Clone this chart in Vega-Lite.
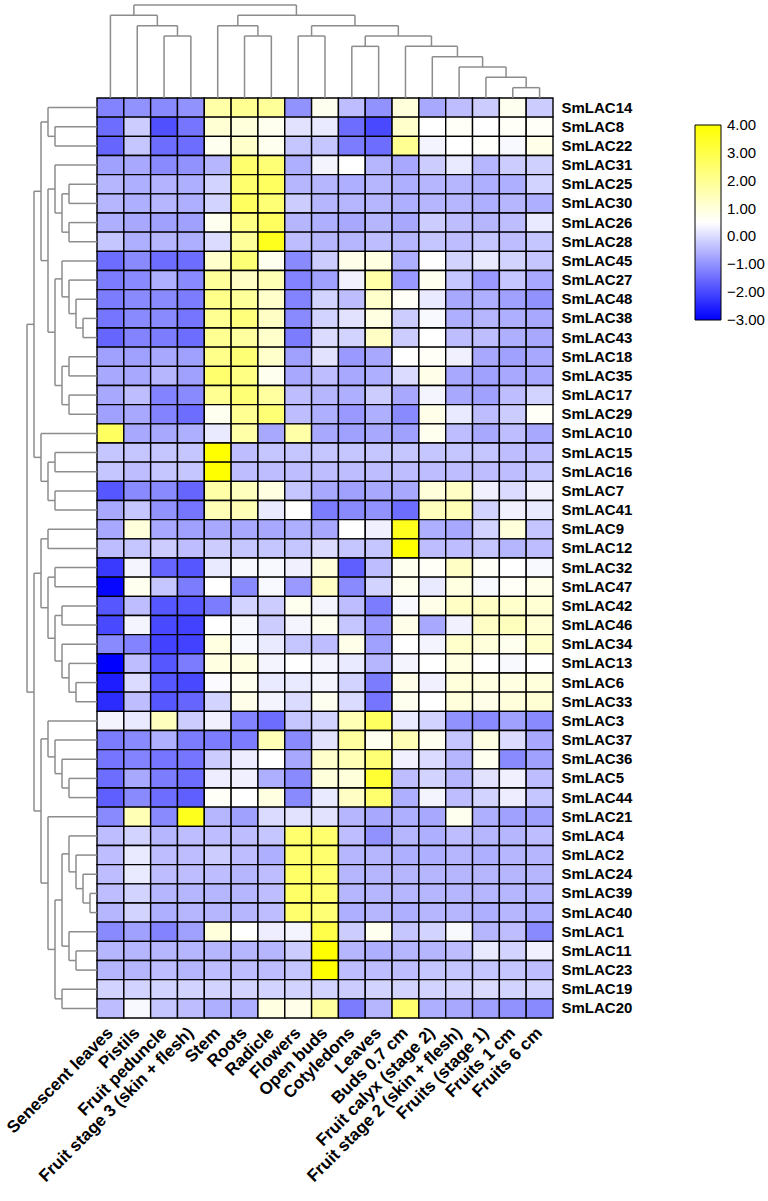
{
"$schema": "https://vega.github.io/schema/vega-lite/v6.json",
"width": 456, "height": 920,
"autosize": {"type": "none"},
"padding": {"left": 97, "top": 98, "right": 215, "bottom": 183},
"background": "white",
"config": {"view": {"stroke": null}, "font": "Liberation Sans"},
"datasets": {
"tissues": [
{"t":0,"tissue":"Senescent leaves"},{"t":1,"tissue":"Pistils"},{"t":2,"tissue":"Fruit peduncle"},{"t":3,"tissue":"Fruit stage 3 (skin + flesh)"},{"t":4,"tissue":"Stem"},{"t":5,"tissue":"Roots"},{"t":6,"tissue":"Radicle"},{"t":7,"tissue":"Flowers"},{"t":8,"tissue":"Open buds"},{"t":9,"tissue":"Cotyledons"},{"t":10,"tissue":"Leaves"},{"t":11,"tissue":"Buds 0.7 cm"},{"t":12,"tissue":"Fruit calyx (stage 2)"},{"t":13,"tissue":"Fruit stage 2 (skin + flesh)"},{"t":14,"tissue":"Fruits (stage 1)"},{"t":15,"tissue":"Fruits 1 cm"},{"t":16,"tissue":"Fruits 6 cm"}
],
"cells": [
{"g":"SmLAC14","t":0,"v":-1.2},{"g":"SmLAC14","t":1,"v":-1.0},{"g":"SmLAC14","t":2,"v":-1.1},{"g":"SmLAC14","t":3,"v":-1.0},{"g":"SmLAC14","t":4,"v":1.7},{"g":"SmLAC14","t":5,"v":2.0},{"g":"SmLAC14","t":6,"v":1.9},{"g":"SmLAC14","t":7,"v":-1.0},{"g":"SmLAC14","t":8,"v":0.7},{"g":"SmLAC14","t":9,"v":-0.4},{"g":"SmLAC14","t":10,"v":-1.0},{"g":"SmLAC14","t":11,"v":1.0},{"g":"SmLAC14","t":12,"v":-0.7},{"g":"SmLAC14","t":13,"v":-0.4},{"g":"SmLAC14","t":14,"v":-0.2},{"g":"SmLAC14","t":15,"v":0.7},{"g":"SmLAC14","t":16,"v":-0.2},
{"g":"SmLAC8","t":0,"v":-1.5},{"g":"SmLAC8","t":1,"v":-0.2},{"g":"SmLAC8","t":2,"v":-1.9},{"g":"SmLAC8","t":3,"v":-1.4},{"g":"SmLAC8","t":4,"v":1.1},{"g":"SmLAC8","t":5,"v":1.0},{"g":"SmLAC8","t":6,"v":0.7},{"g":"SmLAC8","t":7,"v":0.1},{"g":"SmLAC8","t":8,"v":0.2},{"g":"SmLAC8","t":9,"v":-1.5},{"g":"SmLAC8","t":10,"v":-2.0},{"g":"SmLAC8","t":11,"v":1.2},{"g":"SmLAC8","t":12,"v":0.5},{"g":"SmLAC8","t":13,"v":0.6},{"g":"SmLAC8","t":14,"v":0.5},{"g":"SmLAC8","t":15,"v":0.6},{"g":"SmLAC8","t":16,"v":0.6},
{"g":"SmLAC22","t":0,"v":-1.6},{"g":"SmLAC22","t":1,"v":-0.3},{"g":"SmLAC22","t":2,"v":-1.5},{"g":"SmLAC22","t":3,"v":-1.5},{"g":"SmLAC22","t":4,"v":0.7},{"g":"SmLAC22","t":5,"v":1.2},{"g":"SmLAC22","t":6,"v":0.7},{"g":"SmLAC22","t":7,"v":-0.3},{"g":"SmLAC22","t":8,"v":-0.3},{"g":"SmLAC22","t":9,"v":-1.3},{"g":"SmLAC22","t":10,"v":-1.5},{"g":"SmLAC22","t":11,"v":2.0},{"g":"SmLAC22","t":12,"v":0.35},{"g":"SmLAC22","t":13,"v":0.5},{"g":"SmLAC22","t":14,"v":0.55},{"g":"SmLAC22","t":15,"v":0.4},{"g":"SmLAC22","t":16,"v":0.8},
{"g":"SmLAC31","t":0,"v":-0.8},{"g":"SmLAC31","t":1,"v":-0.7},{"g":"SmLAC31","t":2,"v":-1.1},{"g":"SmLAC31","t":3,"v":-1.0},{"g":"SmLAC31","t":4,"v":-0.5},{"g":"SmLAC31","t":5,"v":2.5},{"g":"SmLAC31","t":6,"v":2.4},{"g":"SmLAC31","t":7,"v":-0.6},{"g":"SmLAC31","t":8,"v":0.35},{"g":"SmLAC31","t":9,"v":0.5},{"g":"SmLAC31","t":10,"v":-0.5},{"g":"SmLAC31","t":11,"v":-0.7},{"g":"SmLAC31","t":12,"v":-0.2},{"g":"SmLAC31","t":13,"v":0.2},{"g":"SmLAC31","t":14,"v":-0.5},{"g":"SmLAC31","t":15,"v":-0.2},{"g":"SmLAC31","t":16,"v":-0.15},
{"g":"SmLAC25","t":0,"v":-0.5},{"g":"SmLAC25","t":1,"v":-0.6},{"g":"SmLAC25","t":2,"v":-0.55},{"g":"SmLAC25","t":3,"v":-0.6},{"g":"SmLAC25","t":4,"v":-0.1},{"g":"SmLAC25","t":5,"v":2.5},{"g":"SmLAC25","t":6,"v":2.7},{"g":"SmLAC25","t":7,"v":-0.5},{"g":"SmLAC25","t":8,"v":-0.5},{"g":"SmLAC25","t":9,"v":-0.6},{"g":"SmLAC25","t":10,"v":-0.5},{"g":"SmLAC25","t":11,"v":-0.6},{"g":"SmLAC25","t":12,"v":-0.5},{"g":"SmLAC25","t":13,"v":-0.5},{"g":"SmLAC25","t":14,"v":-0.6},{"g":"SmLAC25","t":15,"v":-0.6},{"g":"SmLAC25","t":16,"v":-0.1},
{"g":"SmLAC30","t":0,"v":-0.5},{"g":"SmLAC30","t":1,"v":-0.6},{"g":"SmLAC30","t":2,"v":-0.5},{"g":"SmLAC30","t":3,"v":-0.6},{"g":"SmLAC30","t":4,"v":-0.1},{"g":"SmLAC30","t":5,"v":2.7},{"g":"SmLAC30","t":6,"v":2.4},{"g":"SmLAC30","t":7,"v":-0.2},{"g":"SmLAC30","t":8,"v":-0.5},{"g":"SmLAC30","t":9,"v":-0.5},{"g":"SmLAC30","t":10,"v":-0.5},{"g":"SmLAC30","t":11,"v":-0.6},{"g":"SmLAC30","t":12,"v":-0.5},{"g":"SmLAC30","t":13,"v":-0.5},{"g":"SmLAC30","t":14,"v":-0.6},{"g":"SmLAC30","t":15,"v":-0.5},{"g":"SmLAC30","t":16,"v":-0.6},
{"g":"SmLAC26","t":0,"v":-0.6},{"g":"SmLAC26","t":1,"v":-0.7},{"g":"SmLAC26","t":2,"v":-0.8},{"g":"SmLAC26","t":3,"v":-0.8},{"g":"SmLAC26","t":4,"v":0.7},{"g":"SmLAC26","t":5,"v":2.2},{"g":"SmLAC26","t":6,"v":2.7},{"g":"SmLAC26","t":7,"v":-0.5},{"g":"SmLAC26","t":8,"v":-0.6},{"g":"SmLAC26","t":9,"v":-0.7},{"g":"SmLAC26","t":10,"v":-0.5},{"g":"SmLAC26","t":11,"v":-0.7},{"g":"SmLAC26","t":12,"v":-0.2},{"g":"SmLAC26","t":13,"v":-0.4},{"g":"SmLAC26","t":14,"v":-0.5},{"g":"SmLAC26","t":15,"v":-0.4},{"g":"SmLAC26","t":16,"v":0.2},
{"g":"SmLAC28","t":0,"v":-0.3},{"g":"SmLAC28","t":1,"v":-0.6},{"g":"SmLAC28","t":2,"v":-0.5},{"g":"SmLAC28","t":3,"v":-0.6},{"g":"SmLAC28","t":4,"v":0.0},{"g":"SmLAC28","t":5,"v":1.9},{"g":"SmLAC28","t":6,"v":3.6},{"g":"SmLAC28","t":7,"v":-0.4},{"g":"SmLAC28","t":8,"v":-0.5},{"g":"SmLAC28","t":9,"v":-0.5},{"g":"SmLAC28","t":10,"v":-0.4},{"g":"SmLAC28","t":11,"v":-0.5},{"g":"SmLAC28","t":12,"v":-0.3},{"g":"SmLAC28","t":13,"v":-0.4},{"g":"SmLAC28","t":14,"v":-0.3},{"g":"SmLAC28","t":15,"v":-0.4},{"g":"SmLAC28","t":16,"v":-0.3},
{"g":"SmLAC45","t":0,"v":-1.5},{"g":"SmLAC45","t":1,"v":-1.1},{"g":"SmLAC45","t":2,"v":-1.5},{"g":"SmLAC45","t":3,"v":-1.5},{"g":"SmLAC45","t":4,"v":1.2},{"g":"SmLAC45","t":5,"v":2.4},{"g":"SmLAC45","t":6,"v":0.7},{"g":"SmLAC45","t":7,"v":-1.1},{"g":"SmLAC45","t":8,"v":-0.2},{"g":"SmLAC45","t":9,"v":0.8},{"g":"SmLAC45","t":10,"v":0.9},{"g":"SmLAC45","t":11,"v":-0.6},{"g":"SmLAC45","t":12,"v":0.5},{"g":"SmLAC45","t":13,"v":-0.1},{"g":"SmLAC45","t":14,"v":0.2},{"g":"SmLAC45","t":15,"v":-0.1},{"g":"SmLAC45","t":16,"v":-0.3},
{"g":"SmLAC27","t":0,"v":-1.3},{"g":"SmLAC27","t":1,"v":-1.1},{"g":"SmLAC27","t":2,"v":-0.6},{"g":"SmLAC27","t":3,"v":-1.1},{"g":"SmLAC27","t":4,"v":1.9},{"g":"SmLAC27","t":5,"v":1.3},{"g":"SmLAC27","t":6,"v":1.5},{"g":"SmLAC27","t":7,"v":-1.2},{"g":"SmLAC27","t":8,"v":-0.8},{"g":"SmLAC27","t":9,"v":0.3},{"g":"SmLAC27","t":10,"v":1.7},{"g":"SmLAC27","t":11,"v":-0.9},{"g":"SmLAC27","t":12,"v":0.7},{"g":"SmLAC27","t":13,"v":-0.3},{"g":"SmLAC27","t":14,"v":-0.9},{"g":"SmLAC27","t":15,"v":-0.3},{"g":"SmLAC27","t":16,"v":-0.7},
{"g":"SmLAC48","t":0,"v":-1.3},{"g":"SmLAC48","t":1,"v":-1.1},{"g":"SmLAC48","t":2,"v":-1.1},{"g":"SmLAC48","t":3,"v":-1.3},{"g":"SmLAC48","t":4,"v":2.1},{"g":"SmLAC48","t":5,"v":1.9},{"g":"SmLAC48","t":6,"v":1.2},{"g":"SmLAC48","t":7,"v":-1.2},{"g":"SmLAC48","t":8,"v":-0.1},{"g":"SmLAC48","t":9,"v":-0.4},{"g":"SmLAC48","t":10,"v":1.2},{"g":"SmLAC48","t":11,"v":0.6},{"g":"SmLAC48","t":12,"v":0.2},{"g":"SmLAC48","t":13,"v":-0.7},{"g":"SmLAC48","t":14,"v":-0.6},{"g":"SmLAC48","t":15,"v":-0.8},{"g":"SmLAC48","t":16,"v":-1.0},
{"g":"SmLAC38","t":0,"v":-1.4},{"g":"SmLAC38","t":1,"v":-1.1},{"g":"SmLAC38","t":2,"v":-1.1},{"g":"SmLAC38","t":3,"v":-1.4},{"g":"SmLAC38","t":4,"v":2.0},{"g":"SmLAC38","t":5,"v":2.3},{"g":"SmLAC38","t":6,"v":1.3},{"g":"SmLAC38","t":7,"v":-1.1},{"g":"SmLAC38","t":8,"v":-0.1},{"g":"SmLAC38","t":9,"v":0.1},{"g":"SmLAC38","t":10,"v":0.9},{"g":"SmLAC38","t":11,"v":-0.2},{"g":"SmLAC38","t":12,"v":0.4},{"g":"SmLAC38","t":13,"v":-0.6},{"g":"SmLAC38","t":14,"v":-0.5},{"g":"SmLAC38","t":15,"v":-0.6},{"g":"SmLAC38","t":16,"v":-0.7},
{"g":"SmLAC43","t":0,"v":-1.6},{"g":"SmLAC43","t":1,"v":-1.2},{"g":"SmLAC43","t":2,"v":-1.3},{"g":"SmLAC43","t":3,"v":-1.5},{"g":"SmLAC43","t":4,"v":2.0},{"g":"SmLAC43","t":5,"v":1.8},{"g":"SmLAC43","t":6,"v":1.2},{"g":"SmLAC43","t":7,"v":-1.3},{"g":"SmLAC43","t":8,"v":0.0},{"g":"SmLAC43","t":9,"v":-0.1},{"g":"SmLAC43","t":10,"v":1.3},{"g":"SmLAC43","t":11,"v":-0.2},{"g":"SmLAC43","t":12,"v":0.5},{"g":"SmLAC43","t":13,"v":-0.4},{"g":"SmLAC43","t":14,"v":-0.4},{"g":"SmLAC43","t":15,"v":-0.6},{"g":"SmLAC43","t":16,"v":-0.7},
{"g":"SmLAC18","t":0,"v":-0.8},{"g":"SmLAC18","t":1,"v":-0.8},{"g":"SmLAC18","t":2,"v":-0.7},{"g":"SmLAC18","t":3,"v":-0.8},{"g":"SmLAC18","t":4,"v":2.1},{"g":"SmLAC18","t":5,"v":2.4},{"g":"SmLAC18","t":6,"v":1.2},{"g":"SmLAC18","t":7,"v":-0.8},{"g":"SmLAC18","t":8,"v":0.1},{"g":"SmLAC18","t":9,"v":-0.9},{"g":"SmLAC18","t":10,"v":-0.7},{"g":"SmLAC18","t":11,"v":0.5},{"g":"SmLAC18","t":12,"v":0.6},{"g":"SmLAC18","t":13,"v":0.3},{"g":"SmLAC18","t":14,"v":-0.7},{"g":"SmLAC18","t":15,"v":-0.8},{"g":"SmLAC18","t":16,"v":-0.7},
{"g":"SmLAC35","t":0,"v":-0.7},{"g":"SmLAC35","t":1,"v":-0.7},{"g":"SmLAC35","t":2,"v":-0.5},{"g":"SmLAC35","t":3,"v":-0.8},{"g":"SmLAC35","t":4,"v":2.5},{"g":"SmLAC35","t":5,"v":2.2},{"g":"SmLAC35","t":6,"v":0.7},{"g":"SmLAC35","t":7,"v":-0.7},{"g":"SmLAC35","t":8,"v":-0.4},{"g":"SmLAC35","t":9,"v":-0.7},{"g":"SmLAC35","t":10,"v":-0.6},{"g":"SmLAC35","t":11,"v":0.0},{"g":"SmLAC35","t":12,"v":0.8},{"g":"SmLAC35","t":13,"v":-0.7},{"g":"SmLAC35","t":14,"v":-0.8},{"g":"SmLAC35","t":15,"v":-0.7},{"g":"SmLAC35","t":16,"v":-0.7},
{"g":"SmLAC17","t":0,"v":-0.7},{"g":"SmLAC17","t":1,"v":-0.4},{"g":"SmLAC17","t":2,"v":-1.2},{"g":"SmLAC17","t":3,"v":-1.1},{"g":"SmLAC17","t":4,"v":2.0},{"g":"SmLAC17","t":5,"v":2.4},{"g":"SmLAC17","t":6,"v":1.8},{"g":"SmLAC17","t":7,"v":-0.4},{"g":"SmLAC17","t":8,"v":-0.5},{"g":"SmLAC17","t":9,"v":-0.6},{"g":"SmLAC17","t":10,"v":-0.2},{"g":"SmLAC17","t":11,"v":-0.7},{"g":"SmLAC17","t":12,"v":0.35},{"g":"SmLAC17","t":13,"v":-0.7},{"g":"SmLAC17","t":14,"v":-0.8},{"g":"SmLAC17","t":15,"v":-0.4},{"g":"SmLAC17","t":16,"v":-0.1},
{"g":"SmLAC29","t":0,"v":-0.8},{"g":"SmLAC29","t":1,"v":-0.7},{"g":"SmLAC29","t":2,"v":-1.2},{"g":"SmLAC29","t":3,"v":-1.5},{"g":"SmLAC29","t":4,"v":0.7},{"g":"SmLAC29","t":5,"v":2.0},{"g":"SmLAC29","t":6,"v":2.4},{"g":"SmLAC29","t":7,"v":-0.4},{"g":"SmLAC29","t":8,"v":-0.6},{"g":"SmLAC29","t":9,"v":-0.9},{"g":"SmLAC29","t":10,"v":-0.6},{"g":"SmLAC29","t":11,"v":-1.1},{"g":"SmLAC29","t":12,"v":0.8},{"g":"SmLAC29","t":13,"v":0.2},{"g":"SmLAC29","t":14,"v":-0.4},{"g":"SmLAC29","t":15,"v":-0.2},{"g":"SmLAC29","t":16,"v":0.6},
{"g":"SmLAC10","t":0,"v":2.7},{"g":"SmLAC10","t":1,"v":-0.7},{"g":"SmLAC10","t":2,"v":-0.7},{"g":"SmLAC10","t":3,"v":-0.6},{"g":"SmLAC10","t":4,"v":0.2},{"g":"SmLAC10","t":5,"v":1.7},{"g":"SmLAC10","t":6,"v":-0.7},{"g":"SmLAC10","t":7,"v":1.7},{"g":"SmLAC10","t":8,"v":-0.7},{"g":"SmLAC10","t":9,"v":-0.8},{"g":"SmLAC10","t":10,"v":-0.7},{"g":"SmLAC10","t":11,"v":-0.8},{"g":"SmLAC10","t":12,"v":0.7},{"g":"SmLAC10","t":13,"v":-0.4},{"g":"SmLAC10","t":14,"v":-0.7},{"g":"SmLAC10","t":15,"v":-0.4},{"g":"SmLAC10","t":16,"v":-0.7},
{"g":"SmLAC15","t":0,"v":-0.3},{"g":"SmLAC15","t":1,"v":-0.3},{"g":"SmLAC15","t":2,"v":-0.3},{"g":"SmLAC15","t":3,"v":-0.3},{"g":"SmLAC15","t":4,"v":4.0},{"g":"SmLAC15","t":5,"v":-0.4},{"g":"SmLAC15","t":6,"v":-0.3},{"g":"SmLAC15","t":7,"v":-0.3},{"g":"SmLAC15","t":8,"v":-0.3},{"g":"SmLAC15","t":9,"v":-0.3},{"g":"SmLAC15","t":10,"v":-0.3},{"g":"SmLAC15","t":11,"v":-0.3},{"g":"SmLAC15","t":12,"v":-0.3},{"g":"SmLAC15","t":13,"v":-0.3},{"g":"SmLAC15","t":14,"v":-0.3},{"g":"SmLAC15","t":15,"v":-0.4},{"g":"SmLAC15","t":16,"v":-0.4},
{"g":"SmLAC16","t":0,"v":-0.3},{"g":"SmLAC16","t":1,"v":-0.4},{"g":"SmLAC16","t":2,"v":-0.3},{"g":"SmLAC16","t":3,"v":-0.3},{"g":"SmLAC16","t":4,"v":4.0},{"g":"SmLAC16","t":5,"v":-0.4},{"g":"SmLAC16","t":6,"v":-0.4},{"g":"SmLAC16","t":7,"v":-0.4},{"g":"SmLAC16","t":8,"v":-0.4},{"g":"SmLAC16","t":9,"v":-0.4},{"g":"SmLAC16","t":10,"v":-0.4},{"g":"SmLAC16","t":11,"v":-0.4},{"g":"SmLAC16","t":12,"v":-0.4},{"g":"SmLAC16","t":13,"v":-0.4},{"g":"SmLAC16","t":14,"v":-0.4},{"g":"SmLAC16","t":15,"v":-0.4},{"g":"SmLAC16","t":16,"v":-0.3},
{"g":"SmLAC7","t":0,"v":-1.8},{"g":"SmLAC7","t":1,"v":-1.1},{"g":"SmLAC7","t":2,"v":-1.1},{"g":"SmLAC7","t":3,"v":-1.6},{"g":"SmLAC7","t":4,"v":1.7},{"g":"SmLAC7","t":5,"v":1.4},{"g":"SmLAC7","t":6,"v":0.9},{"g":"SmLAC7","t":7,"v":-0.3},{"g":"SmLAC7","t":8,"v":-0.7},{"g":"SmLAC7","t":9,"v":-0.8},{"g":"SmLAC7","t":10,"v":-0.7},{"g":"SmLAC7","t":11,"v":-0.7},{"g":"SmLAC7","t":12,"v":1.0},{"g":"SmLAC7","t":13,"v":1.3},{"g":"SmLAC7","t":14,"v":0.3},{"g":"SmLAC7","t":15,"v":0.0},{"g":"SmLAC7","t":16,"v":0.3},
{"g":"SmLAC41","t":0,"v":-0.7},{"g":"SmLAC41","t":1,"v":-0.3},{"g":"SmLAC41","t":2,"v":-1.0},{"g":"SmLAC41","t":3,"v":-1.4},{"g":"SmLAC41","t":4,"v":1.5},{"g":"SmLAC41","t":5,"v":1.5},{"g":"SmLAC41","t":6,"v":0.2},{"g":"SmLAC41","t":7,"v":0.5},{"g":"SmLAC41","t":8,"v":-1.3},{"g":"SmLAC41","t":9,"v":-1.1},{"g":"SmLAC41","t":10,"v":-1.0},{"g":"SmLAC41","t":11,"v":-1.5},{"g":"SmLAC41","t":12,"v":1.4},{"g":"SmLAC41","t":13,"v":1.5},{"g":"SmLAC41","t":14,"v":-0.1},{"g":"SmLAC41","t":15,"v":0.3},{"g":"SmLAC41","t":16,"v":0.2},
{"g":"SmLAC9","t":0,"v":-0.7},{"g":"SmLAC9","t":1,"v":1.0},{"g":"SmLAC9","t":2,"v":-0.7},{"g":"SmLAC9","t":3,"v":-0.8},{"g":"SmLAC9","t":4,"v":-0.7},{"g":"SmLAC9","t":5,"v":-0.7},{"g":"SmLAC9","t":6,"v":-0.7},{"g":"SmLAC9","t":7,"v":-0.6},{"g":"SmLAC9","t":8,"v":-0.7},{"g":"SmLAC9","t":9,"v":0.5},{"g":"SmLAC9","t":10,"v":0.3},{"g":"SmLAC9","t":11,"v":3.6},{"g":"SmLAC9","t":12,"v":-0.6},{"g":"SmLAC9","t":13,"v":-0.7},{"g":"SmLAC9","t":14,"v":-0.1},{"g":"SmLAC9","t":15,"v":1.0},{"g":"SmLAC9","t":16,"v":-0.3},
{"g":"SmLAC12","t":0,"v":-0.4},{"g":"SmLAC12","t":1,"v":-0.3},{"g":"SmLAC12","t":2,"v":-0.2},{"g":"SmLAC12","t":3,"v":-0.4},{"g":"SmLAC12","t":4,"v":-0.2},{"g":"SmLAC12","t":5,"v":-0.3},{"g":"SmLAC12","t":6,"v":-0.3},{"g":"SmLAC12","t":7,"v":-0.3},{"g":"SmLAC12","t":8,"v":0.0},{"g":"SmLAC12","t":9,"v":-0.3},{"g":"SmLAC12","t":10,"v":-0.3},{"g":"SmLAC12","t":11,"v":4.0},{"g":"SmLAC12","t":12,"v":-0.4},{"g":"SmLAC12","t":13,"v":-0.4},{"g":"SmLAC12","t":14,"v":-0.3},{"g":"SmLAC12","t":15,"v":-0.5},{"g":"SmLAC12","t":16,"v":-0.4},
{"g":"SmLAC32","t":0,"v":-2.2},{"g":"SmLAC32","t":1,"v":0.35},{"g":"SmLAC32","t":2,"v":-1.6},{"g":"SmLAC32","t":3,"v":-1.8},{"g":"SmLAC32","t":4,"v":0.2},{"g":"SmLAC32","t":5,"v":0.4},{"g":"SmLAC32","t":6,"v":0.4},{"g":"SmLAC32","t":7,"v":0.3},{"g":"SmLAC32","t":8,"v":1.0},{"g":"SmLAC32","t":9,"v":-1.7},{"g":"SmLAC32","t":10,"v":-0.4},{"g":"SmLAC32","t":11,"v":0.7},{"g":"SmLAC32","t":12,"v":0.6},{"g":"SmLAC32","t":13,"v":1.3},{"g":"SmLAC32","t":14,"v":0.6},{"g":"SmLAC32","t":15,"v":0.5},{"g":"SmLAC32","t":16,"v":0.4},
{"g":"SmLAC47","t":0,"v":-2.9},{"g":"SmLAC47","t":1,"v":0.7},{"g":"SmLAC47","t":2,"v":-0.3},{"g":"SmLAC47","t":3,"v":-1.3},{"g":"SmLAC47","t":4,"v":0.5},{"g":"SmLAC47","t":5,"v":-1.1},{"g":"SmLAC47","t":6,"v":0.4},{"g":"SmLAC47","t":7,"v":-0.9},{"g":"SmLAC47","t":8,"v":1.3},{"g":"SmLAC47","t":9,"v":-1.1},{"g":"SmLAC47","t":10,"v":-0.1},{"g":"SmLAC47","t":11,"v":0.7},{"g":"SmLAC47","t":12,"v":0.2},{"g":"SmLAC47","t":13,"v":0.9},{"g":"SmLAC47","t":14,"v":0.4},{"g":"SmLAC47","t":15,"v":0.6},{"g":"SmLAC47","t":16,"v":0.8},
{"g":"SmLAC42","t":0,"v":-1.8},{"g":"SmLAC42","t":1,"v":-0.4},{"g":"SmLAC42","t":2,"v":-1.8},{"g":"SmLAC42","t":3,"v":-1.8},{"g":"SmLAC42","t":4,"v":-1.3},{"g":"SmLAC42","t":5,"v":-0.1},{"g":"SmLAC42","t":6,"v":-0.2},{"g":"SmLAC42","t":7,"v":0.7},{"g":"SmLAC42","t":8,"v":0.35},{"g":"SmLAC42","t":9,"v":-0.4},{"g":"SmLAC42","t":10,"v":-1.3},{"g":"SmLAC42","t":11,"v":0.4},{"g":"SmLAC42","t":12,"v":0.8},{"g":"SmLAC42","t":13,"v":1.3},{"g":"SmLAC42","t":14,"v":1.3},{"g":"SmLAC42","t":15,"v":1.2},{"g":"SmLAC42","t":16,"v":1.1},
{"g":"SmLAC46","t":0,"v":-2.0},{"g":"SmLAC46","t":1,"v":0.35},{"g":"SmLAC46","t":2,"v":-2.0},{"g":"SmLAC46","t":3,"v":-2.1},{"g":"SmLAC46","t":4,"v":0.5},{"g":"SmLAC46","t":5,"v":0.4},{"g":"SmLAC46","t":6,"v":-0.2},{"g":"SmLAC46","t":7,"v":0.35},{"g":"SmLAC46","t":8,"v":0.7},{"g":"SmLAC46","t":9,"v":-0.3},{"g":"SmLAC46","t":10,"v":-0.9},{"g":"SmLAC46","t":11,"v":0.8},{"g":"SmLAC46","t":12,"v":-0.7},{"g":"SmLAC46","t":13,"v":0.3},{"g":"SmLAC46","t":14,"v":1.3},{"g":"SmLAC46","t":15,"v":1.4},{"g":"SmLAC46","t":16,"v":1.1},
{"g":"SmLAC34","t":0,"v":-1.1},{"g":"SmLAC34","t":1,"v":-1.2},{"g":"SmLAC34","t":2,"v":-2.1},{"g":"SmLAC34","t":3,"v":-2.1},{"g":"SmLAC34","t":4,"v":0.9},{"g":"SmLAC34","t":5,"v":0.4},{"g":"SmLAC34","t":6,"v":0.2},{"g":"SmLAC34","t":7,"v":-0.3},{"g":"SmLAC34","t":8,"v":-0.4},{"g":"SmLAC34","t":9,"v":0.8},{"g":"SmLAC34","t":10,"v":-0.8},{"g":"SmLAC34","t":11,"v":0.5},{"g":"SmLAC34","t":12,"v":0.35},{"g":"SmLAC34","t":13,"v":1.2},{"g":"SmLAC34","t":14,"v":1.0},{"g":"SmLAC34","t":15,"v":0.7},{"g":"SmLAC34","t":16,"v":1.2},
{"g":"SmLAC13","t":0,"v":-3.0},{"g":"SmLAC13","t":1,"v":-0.4},{"g":"SmLAC13","t":2,"v":-1.8},{"g":"SmLAC13","t":3,"v":-1.3},{"g":"SmLAC13","t":4,"v":0.9},{"g":"SmLAC13","t":5,"v":0.9},{"g":"SmLAC13","t":6,"v":0.35},{"g":"SmLAC13","t":7,"v":0.5},{"g":"SmLAC13","t":8,"v":0.35},{"g":"SmLAC13","t":9,"v":0.2},{"g":"SmLAC13","t":10,"v":-0.5},{"g":"SmLAC13","t":11,"v":0.35},{"g":"SmLAC13","t":12,"v":0.5},{"g":"SmLAC13","t":13,"v":0.9},{"g":"SmLAC13","t":14,"v":0.5},{"g":"SmLAC13","t":15,"v":0.4},{"g":"SmLAC13","t":16,"v":0.5},
{"g":"SmLAC6","t":0,"v":-2.6},{"g":"SmLAC6","t":1,"v":0.0},{"g":"SmLAC6","t":2,"v":-1.8},{"g":"SmLAC6","t":3,"v":-2.0},{"g":"SmLAC6","t":4,"v":0.45},{"g":"SmLAC6","t":5,"v":0.7},{"g":"SmLAC6","t":6,"v":0.2},{"g":"SmLAC6","t":7,"v":0.2},{"g":"SmLAC6","t":8,"v":0.35},{"g":"SmLAC6","t":9,"v":-0.1},{"g":"SmLAC6","t":10,"v":-1.3},{"g":"SmLAC6","t":11,"v":0.8},{"g":"SmLAC6","t":12,"v":0.3},{"g":"SmLAC6","t":13,"v":1.0},{"g":"SmLAC6","t":14,"v":0.9},{"g":"SmLAC6","t":15,"v":0.9},{"g":"SmLAC6","t":16,"v":1.0},
{"g":"SmLAC33","t":0,"v":-2.4},{"g":"SmLAC33","t":1,"v":-0.4},{"g":"SmLAC33","t":2,"v":-1.8},{"g":"SmLAC33","t":3,"v":-1.6},{"g":"SmLAC33","t":4,"v":-0.1},{"g":"SmLAC33","t":5,"v":0.8},{"g":"SmLAC33","t":6,"v":0.35},{"g":"SmLAC33","t":7,"v":0.0},{"g":"SmLAC33","t":8,"v":0.7},{"g":"SmLAC33","t":9,"v":0.0},{"g":"SmLAC33","t":10,"v":-1.4},{"g":"SmLAC33","t":11,"v":0.7},{"g":"SmLAC33","t":12,"v":0.5},{"g":"SmLAC33","t":13,"v":1.0},{"g":"SmLAC33","t":14,"v":0.8},{"g":"SmLAC33","t":15,"v":1.0},{"g":"SmLAC33","t":16,"v":1.1},
{"g":"SmLAC3","t":0,"v":0.35},{"g":"SmLAC3","t":1,"v":0.2},{"g":"SmLAC3","t":2,"v":1.4},{"g":"SmLAC3","t":3,"v":-0.2},{"g":"SmLAC3","t":4,"v":0.3},{"g":"SmLAC3","t":5,"v":-1.2},{"g":"SmLAC3","t":6,"v":-1.5},{"g":"SmLAC3","t":7,"v":-0.3},{"g":"SmLAC3","t":8,"v":-0.1},{"g":"SmLAC3","t":9,"v":1.5},{"g":"SmLAC3","t":10,"v":2.7},{"g":"SmLAC3","t":11,"v":0.2},{"g":"SmLAC3","t":12,"v":-0.1},{"g":"SmLAC3","t":13,"v":-1.0},{"g":"SmLAC3","t":14,"v":-1.1},{"g":"SmLAC3","t":15,"v":-0.8},{"g":"SmLAC3","t":16,"v":-1.1},
{"g":"SmLAC37","t":0,"v":-1.3},{"g":"SmLAC37","t":1,"v":-1.1},{"g":"SmLAC37","t":2,"v":-0.6},{"g":"SmLAC37","t":3,"v":-1.3},{"g":"SmLAC37","t":4,"v":-1.3},{"g":"SmLAC37","t":5,"v":-1.3},{"g":"SmLAC37","t":6,"v":1.5},{"g":"SmLAC37","t":7,"v":-1.1},{"g":"SmLAC37","t":8,"v":0.1},{"g":"SmLAC37","t":9,"v":1.8},{"g":"SmLAC37","t":10,"v":0.7},{"g":"SmLAC37","t":11,"v":1.5},{"g":"SmLAC37","t":12,"v":0.7},{"g":"SmLAC37","t":13,"v":-0.3},{"g":"SmLAC37","t":14,"v":0.9},{"g":"SmLAC37","t":15,"v":0.0},{"g":"SmLAC37","t":16,"v":-0.7},
{"g":"SmLAC36","t":0,"v":-1.4},{"g":"SmLAC36","t":1,"v":-1.2},{"g":"SmLAC36","t":2,"v":-1.4},{"g":"SmLAC36","t":3,"v":-1.4},{"g":"SmLAC36","t":4,"v":-0.2},{"g":"SmLAC36","t":5,"v":0.25},{"g":"SmLAC36","t":6,"v":0.5},{"g":"SmLAC36","t":7,"v":-0.7},{"g":"SmLAC36","t":8,"v":1.2},{"g":"SmLAC36","t":9,"v":1.5},{"g":"SmLAC36","t":10,"v":2.4},{"g":"SmLAC36","t":11,"v":0.3},{"g":"SmLAC36","t":12,"v":0.0},{"g":"SmLAC36","t":13,"v":-0.5},{"g":"SmLAC36","t":14,"v":0.7},{"g":"SmLAC36","t":15,"v":-1.1},{"g":"SmLAC36","t":16,"v":-0.8},
{"g":"SmLAC5","t":0,"v":-1.5},{"g":"SmLAC5","t":1,"v":-0.7},{"g":"SmLAC5","t":2,"v":-1.3},{"g":"SmLAC5","t":3,"v":-1.5},{"g":"SmLAC5","t":4,"v":0.25},{"g":"SmLAC5","t":5,"v":0.3},{"g":"SmLAC5","t":6,"v":-0.6},{"g":"SmLAC5","t":7,"v":-1.1},{"g":"SmLAC5","t":8,"v":1.0},{"g":"SmLAC5","t":9,"v":1.0},{"g":"SmLAC5","t":10,"v":3.3},{"g":"SmLAC5","t":11,"v":-0.4},{"g":"SmLAC5","t":12,"v":-0.1},{"g":"SmLAC5","t":13,"v":-0.5},{"g":"SmLAC5","t":14,"v":0.1},{"g":"SmLAC5","t":15,"v":0.3},{"g":"SmLAC5","t":16,"v":-0.4},
{"g":"SmLAC44","t":0,"v":-1.7},{"g":"SmLAC44","t":1,"v":-1.1},{"g":"SmLAC44","t":2,"v":-1.5},{"g":"SmLAC44","t":3,"v":-1.7},{"g":"SmLAC44","t":4,"v":0.6},{"g":"SmLAC44","t":5,"v":0.5},{"g":"SmLAC44","t":6,"v":0.9},{"g":"SmLAC44","t":7,"v":-1.1},{"g":"SmLAC44","t":8,"v":0.2},{"g":"SmLAC44","t":9,"v":1.3},{"g":"SmLAC44","t":10,"v":2.5},{"g":"SmLAC44","t":11,"v":-0.6},{"g":"SmLAC44","t":12,"v":0.35},{"g":"SmLAC44","t":13,"v":-0.4},{"g":"SmLAC44","t":14,"v":-0.1},{"g":"SmLAC44","t":15,"v":0.25},{"g":"SmLAC44","t":16,"v":-0.3},
{"g":"SmLAC21","t":0,"v":-1.1},{"g":"SmLAC21","t":1,"v":1.5},{"g":"SmLAC21","t":2,"v":-1.1},{"g":"SmLAC21","t":3,"v":3.6},{"g":"SmLAC21","t":4,"v":-0.5},{"g":"SmLAC21","t":5,"v":-0.8},{"g":"SmLAC21","t":6,"v":0.0},{"g":"SmLAC21","t":7,"v":0.1},{"g":"SmLAC21","t":8,"v":0.1},{"g":"SmLAC21","t":9,"v":-0.5},{"g":"SmLAC21","t":10,"v":-0.7},{"g":"SmLAC21","t":11,"v":-0.6},{"g":"SmLAC21","t":12,"v":-0.7},{"g":"SmLAC21","t":13,"v":0.7},{"g":"SmLAC21","t":14,"v":-0.6},{"g":"SmLAC21","t":15,"v":-0.8},{"g":"SmLAC21","t":16,"v":-0.8},
{"g":"SmLAC4","t":0,"v":-0.4},{"g":"SmLAC4","t":1,"v":-0.1},{"g":"SmLAC4","t":2,"v":-0.5},{"g":"SmLAC4","t":3,"v":-0.4},{"g":"SmLAC4","t":4,"v":-0.4},{"g":"SmLAC4","t":5,"v":-0.4},{"g":"SmLAC4","t":6,"v":-0.3},{"g":"SmLAC4","t":7,"v":2.5},{"g":"SmLAC4","t":8,"v":2.5},{"g":"SmLAC4","t":9,"v":-0.4},{"g":"SmLAC4","t":10,"v":-1.0},{"g":"SmLAC4","t":11,"v":-0.5},{"g":"SmLAC4","t":12,"v":-0.6},{"g":"SmLAC4","t":13,"v":-0.4},{"g":"SmLAC4","t":14,"v":-0.5},{"g":"SmLAC4","t":15,"v":-0.5},{"g":"SmLAC4","t":16,"v":-0.4},
{"g":"SmLAC2","t":0,"v":-0.4},{"g":"SmLAC2","t":1,"v":0.2},{"g":"SmLAC2","t":2,"v":-0.4},{"g":"SmLAC2","t":3,"v":-0.4},{"g":"SmLAC2","t":4,"v":-0.2},{"g":"SmLAC2","t":5,"v":-0.4},{"g":"SmLAC2","t":6,"v":-0.6},{"g":"SmLAC2","t":7,"v":2.5},{"g":"SmLAC2","t":8,"v":2.5},{"g":"SmLAC2","t":9,"v":-0.5},{"g":"SmLAC2","t":10,"v":-0.5},{"g":"SmLAC2","t":11,"v":-0.6},{"g":"SmLAC2","t":12,"v":-0.6},{"g":"SmLAC2","t":13,"v":-0.5},{"g":"SmLAC2","t":14,"v":-0.6},{"g":"SmLAC2","t":15,"v":-0.5},{"g":"SmLAC2","t":16,"v":-0.5},
{"g":"SmLAC24","t":0,"v":-0.4},{"g":"SmLAC24","t":1,"v":0.2},{"g":"SmLAC24","t":2,"v":-0.4},{"g":"SmLAC24","t":3,"v":-0.4},{"g":"SmLAC24","t":4,"v":-0.4},{"g":"SmLAC24","t":5,"v":-0.5},{"g":"SmLAC24","t":6,"v":-0.4},{"g":"SmLAC24","t":7,"v":2.6},{"g":"SmLAC24","t":8,"v":2.5},{"g":"SmLAC24","t":9,"v":-0.5},{"g":"SmLAC24","t":10,"v":-0.5},{"g":"SmLAC24","t":11,"v":-0.5},{"g":"SmLAC24","t":12,"v":-0.5},{"g":"SmLAC24","t":13,"v":-0.5},{"g":"SmLAC24","t":14,"v":-0.5},{"g":"SmLAC24","t":15,"v":-0.5},{"g":"SmLAC24","t":16,"v":-0.5},
{"g":"SmLAC39","t":0,"v":-0.4},{"g":"SmLAC39","t":1,"v":-0.1},{"g":"SmLAC39","t":2,"v":-0.5},{"g":"SmLAC39","t":3,"v":-0.5},{"g":"SmLAC39","t":4,"v":-0.5},{"g":"SmLAC39","t":5,"v":-0.5},{"g":"SmLAC39","t":6,"v":-0.4},{"g":"SmLAC39","t":7,"v":2.6},{"g":"SmLAC39","t":8,"v":2.5},{"g":"SmLAC39","t":9,"v":-0.5},{"g":"SmLAC39","t":10,"v":-0.5},{"g":"SmLAC39","t":11,"v":-0.5},{"g":"SmLAC39","t":12,"v":-0.5},{"g":"SmLAC39","t":13,"v":-0.5},{"g":"SmLAC39","t":14,"v":-0.5},{"g":"SmLAC39","t":15,"v":-0.5},{"g":"SmLAC39","t":16,"v":-0.5},
{"g":"SmLAC40","t":0,"v":-0.5},{"g":"SmLAC40","t":1,"v":-0.1},{"g":"SmLAC40","t":2,"v":-0.6},{"g":"SmLAC40","t":3,"v":-0.5},{"g":"SmLAC40","t":4,"v":-0.5},{"g":"SmLAC40","t":5,"v":-0.5},{"g":"SmLAC40","t":6,"v":-0.4},{"g":"SmLAC40","t":7,"v":2.5},{"g":"SmLAC40","t":8,"v":2.4},{"g":"SmLAC40","t":9,"v":-0.6},{"g":"SmLAC40","t":10,"v":-0.5},{"g":"SmLAC40","t":11,"v":-0.6},{"g":"SmLAC40","t":12,"v":-0.5},{"g":"SmLAC40","t":13,"v":-0.5},{"g":"SmLAC40","t":14,"v":-0.6},{"g":"SmLAC40","t":15,"v":-0.5},{"g":"SmLAC40","t":16,"v":-0.6},
{"g":"SmLAC1","t":0,"v":-1.1},{"g":"SmLAC1","t":1,"v":-0.8},{"g":"SmLAC1","t":2,"v":-1.2},{"g":"SmLAC1","t":3,"v":-0.8},{"g":"SmLAC1","t":4,"v":1.0},{"g":"SmLAC1","t":5,"v":0.5},{"g":"SmLAC1","t":6,"v":0.25},{"g":"SmLAC1","t":7,"v":0.35},{"g":"SmLAC1","t":8,"v":3.0},{"g":"SmLAC1","t":9,"v":-0.2},{"g":"SmLAC1","t":10,"v":0.7},{"g":"SmLAC1","t":11,"v":-0.3},{"g":"SmLAC1","t":12,"v":-0.1},{"g":"SmLAC1","t":13,"v":0.4},{"g":"SmLAC1","t":14,"v":-0.5},{"g":"SmLAC1","t":15,"v":-0.4},{"g":"SmLAC1","t":16,"v":-1.1},
{"g":"SmLAC11","t":0,"v":-0.5},{"g":"SmLAC11","t":1,"v":-0.5},{"g":"SmLAC11","t":2,"v":-0.5},{"g":"SmLAC11","t":3,"v":-0.5},{"g":"SmLAC11","t":4,"v":-0.5},{"g":"SmLAC11","t":5,"v":-0.5},{"g":"SmLAC11","t":6,"v":-0.5},{"g":"SmLAC11","t":7,"v":-0.2},{"g":"SmLAC11","t":8,"v":4.0},{"g":"SmLAC11","t":9,"v":-0.5},{"g":"SmLAC11","t":10,"v":-0.6},{"g":"SmLAC11","t":11,"v":-0.5},{"g":"SmLAC11","t":12,"v":-0.5},{"g":"SmLAC11","t":13,"v":-0.4},{"g":"SmLAC11","t":14,"v":0.2},{"g":"SmLAC11","t":15,"v":-0.1},{"g":"SmLAC11","t":16,"v":0.3},
{"g":"SmLAC23","t":0,"v":-0.5},{"g":"SmLAC23","t":1,"v":-0.5},{"g":"SmLAC23","t":2,"v":-0.4},{"g":"SmLAC23","t":3,"v":-0.5},{"g":"SmLAC23","t":4,"v":-0.4},{"g":"SmLAC23","t":5,"v":-0.4},{"g":"SmLAC23","t":6,"v":-0.4},{"g":"SmLAC23","t":7,"v":-0.3},{"g":"SmLAC23","t":8,"v":4.0},{"g":"SmLAC23","t":9,"v":-0.4},{"g":"SmLAC23","t":10,"v":-0.4},{"g":"SmLAC23","t":11,"v":-0.4},{"g":"SmLAC23","t":12,"v":-0.3},{"g":"SmLAC23","t":13,"v":-0.3},{"g":"SmLAC23","t":14,"v":-0.3},{"g":"SmLAC23","t":15,"v":-0.3},{"g":"SmLAC23","t":16,"v":-0.4},
{"g":"SmLAC19","t":0,"v":-0.1},{"g":"SmLAC19","t":1,"v":-0.1},{"g":"SmLAC19","t":2,"v":-0.1},{"g":"SmLAC19","t":3,"v":-0.1},{"g":"SmLAC19","t":4,"v":-0.1},{"g":"SmLAC19","t":5,"v":-0.1},{"g":"SmLAC19","t":6,"v":-0.1},{"g":"SmLAC19","t":7,"v":-0.1},{"g":"SmLAC19","t":8,"v":-0.1},{"g":"SmLAC19","t":9,"v":-0.2},{"g":"SmLAC19","t":10,"v":-0.1},{"g":"SmLAC19","t":11,"v":-0.1},{"g":"SmLAC19","t":12,"v":-0.1},{"g":"SmLAC19","t":13,"v":-0.1},{"g":"SmLAC19","t":14,"v":0.0},{"g":"SmLAC19","t":15,"v":-0.1},{"g":"SmLAC19","t":16,"v":-0.1},
{"g":"SmLAC20","t":0,"v":-0.4},{"g":"SmLAC20","t":1,"v":0.4},{"g":"SmLAC20","t":2,"v":-0.3},{"g":"SmLAC20","t":3,"v":-0.4},{"g":"SmLAC20","t":4,"v":-0.6},{"g":"SmLAC20","t":5,"v":-0.6},{"g":"SmLAC20","t":6,"v":0.9},{"g":"SmLAC20","t":7,"v":0.8},{"g":"SmLAC20","t":8,"v":1.8},{"g":"SmLAC20","t":9,"v":-1.3},{"g":"SmLAC20","t":10,"v":-0.5},{"g":"SmLAC20","t":11,"v":2.5},{"g":"SmLAC20","t":12,"v":-0.6},{"g":"SmLAC20","t":13,"v":-0.7},{"g":"SmLAC20","t":14,"v":-0.8},{"g":"SmLAC20","t":15,"v":-1.0},{"g":"SmLAC20","t":16,"v":-1.1}
],
"topTree": [
{"a":2.5,"b":2.5,"h1":0,"h2":6},{"a":3.5,"b":3.5,"h1":0,"h2":6},{"a":2.5,"b":3.5,"h1":6,"h2":6},
{"a":1.5,"b":1.5,"h1":0,"h2":7},{"a":3.0,"b":3.0,"h1":6,"h2":7},{"a":1.5,"b":3.0,"h1":7,"h2":7},
{"a":0.5,"b":0.5,"h1":0,"h2":8},{"a":2.25,"b":2.25,"h1":7,"h2":8},{"a":0.5,"b":2.25,"h1":8,"h2":8},
{"a":5.5,"b":5.5,"h1":0,"h2":6},{"a":6.5,"b":6.5,"h1":0,"h2":6},{"a":5.5,"b":6.5,"h1":6,"h2":6},
{"a":4.5,"b":4.5,"h1":0,"h2":7},{"a":6.0,"b":6.0,"h1":6,"h2":7},{"a":4.5,"b":6.0,"h1":7,"h2":7},
{"a":7.5,"b":7.5,"h1":0,"h2":6},{"a":8.5,"b":8.5,"h1":0,"h2":6},{"a":7.5,"b":8.5,"h1":6,"h2":6},
{"a":9.5,"b":9.5,"h1":0,"h2":5},{"a":10.5,"b":10.5,"h1":0,"h2":5},{"a":9.5,"b":10.5,"h1":5,"h2":5},
{"a":15.5,"b":15.5,"h1":0,"h2":1},{"a":16.5,"b":16.5,"h1":0,"h2":1},{"a":15.5,"b":16.5,"h1":1,"h2":1},
{"a":14.5,"b":14.5,"h1":0,"h2":2},{"a":16.0,"b":16.0,"h1":1,"h2":2},{"a":14.5,"b":16.0,"h1":2,"h2":2},
{"a":13.5,"b":13.5,"h1":0,"h2":3},{"a":15.25,"b":15.25,"h1":2,"h2":3},{"a":13.5,"b":15.25,"h1":3,"h2":3},
{"a":12.5,"b":12.5,"h1":0,"h2":4},{"a":14.375,"b":14.375,"h1":3,"h2":4},{"a":12.5,"b":14.375,"h1":4,"h2":4},
{"a":11.5,"b":11.5,"h1":0,"h2":5},{"a":13.4375,"b":13.4375,"h1":4,"h2":5},{"a":11.5,"b":13.4375,"h1":5,"h2":5},
{"a":10.0,"b":10.0,"h1":5,"h2":6},{"a":12.46875,"b":12.46875,"h1":5,"h2":6},{"a":10.0,"b":12.46875,"h1":6,"h2":6},
{"a":8.0,"b":8.0,"h1":6,"h2":7},{"a":11.234,"b":11.234,"h1":6,"h2":7},{"a":8.0,"b":11.234,"h1":7,"h2":7},
{"a":5.25,"b":5.25,"h1":7,"h2":8},{"a":9.617,"b":9.617,"h1":7,"h2":8},{"a":5.25,"b":9.617,"h1":8,"h2":8},
{"a":1.375,"b":1.375,"h1":8,"h2":9},{"a":7.434,"b":7.434,"h1":8,"h2":9},{"a":1.375,"b":7.434,"h1":9,"h2":9}
],
"leftTree": [
{"a":1.5,"b":1.5,"h1":0,"h2":6},{"a":2.5,"b":2.5,"h1":0,"h2":6},{"a":1.5,"b":2.5,"h1":6,"h2":6},
{"a":0.5,"b":0.5,"h1":0,"h2":7},{"a":2,"b":2,"h1":6,"h2":7},{"a":0.5,"b":2,"h1":7,"h2":7},
{"a":4.5,"b":4.5,"h1":0,"h2":4},{"a":5.5,"b":5.5,"h1":0,"h2":4},{"a":4.5,"b":5.5,"h1":4,"h2":4},
{"a":6.5,"b":6.5,"h1":0,"h2":4},{"a":7.5,"b":7.5,"h1":0,"h2":4},{"a":6.5,"b":7.5,"h1":4,"h2":4},
{"a":5,"b":5,"h1":4,"h2":5},{"a":7,"b":7,"h1":4,"h2":5},{"a":5,"b":7,"h1":5,"h2":5},
{"a":3.5,"b":3.5,"h1":0,"h2":6},{"a":6,"b":6,"h1":5,"h2":6},{"a":3.5,"b":6,"h1":6,"h2":6},
{"a":11.5,"b":11.5,"h1":0,"h2":2},{"a":12.5,"b":12.5,"h1":0,"h2":2},{"a":11.5,"b":12.5,"h1":2,"h2":2},
{"a":10.5,"b":10.5,"h1":0,"h2":3},{"a":12,"b":12,"h1":2,"h2":3},{"a":10.5,"b":12,"h1":3,"h2":3},
{"a":9.5,"b":9.5,"h1":0,"h2":4},{"a":11.25,"b":11.25,"h1":3,"h2":4},{"a":9.5,"b":11.25,"h1":4,"h2":4},
{"a":8.5,"b":8.5,"h1":0,"h2":5},{"a":10.375,"b":10.375,"h1":4,"h2":5},{"a":8.5,"b":10.375,"h1":5,"h2":5},
{"a":13.5,"b":13.5,"h1":0,"h2":4},{"a":14.5,"b":14.5,"h1":0,"h2":4},{"a":13.5,"b":14.5,"h1":4,"h2":4},
{"a":15.5,"b":15.5,"h1":0,"h2":4},{"a":16.5,"b":16.5,"h1":0,"h2":4},{"a":15.5,"b":16.5,"h1":4,"h2":4},
{"a":14,"b":14,"h1":4,"h2":5},{"a":16,"b":16,"h1":4,"h2":5},{"a":14,"b":16,"h1":5,"h2":5},
{"a":9.4375,"b":9.4375,"h1":5,"h2":6},{"a":15,"b":15,"h1":5,"h2":6},{"a":9.4375,"b":15,"h1":6,"h2":6},
{"a":4.75,"b":4.75,"h1":6,"h2":7},{"a":12.21875,"b":12.21875,"h1":6,"h2":7},{"a":4.75,"b":12.21875,"h1":7,"h2":7},
{"a":1.25,"b":1.25,"h1":7,"h2":8},{"a":8.484,"b":8.484,"h1":7,"h2":8},{"a":1.25,"b":8.484,"h1":8,"h2":8},
{"a":18.5,"b":18.5,"h1":0,"h2":6},{"a":19.5,"b":19.5,"h1":0,"h2":6},{"a":18.5,"b":19.5,"h1":6,"h2":6},
{"a":20.5,"b":20.5,"h1":0,"h2":6},{"a":21.5,"b":21.5,"h1":0,"h2":6},{"a":20.5,"b":21.5,"h1":6,"h2":6},
{"a":19,"b":19,"h1":6,"h2":7},{"a":21,"b":21,"h1":6,"h2":7},{"a":19,"b":21,"h1":7,"h2":7},
{"a":17.5,"b":17.5,"h1":0,"h2":8},{"a":20,"b":20,"h1":7,"h2":8},{"a":17.5,"b":20,"h1":8,"h2":8},
{"a":4.867,"b":4.867,"h1":8,"h2":9},{"a":18.75,"b":18.75,"h1":8,"h2":9},{"a":4.867,"b":18.75,"h1":9,"h2":9},
{"a":22.5,"b":22.5,"h1":0,"h2":7},{"a":23.5,"b":23.5,"h1":0,"h2":7},{"a":22.5,"b":23.5,"h1":7,"h2":7},
{"a":24.5,"b":24.5,"h1":0,"h2":6},{"a":25.5,"b":25.5,"h1":0,"h2":6},{"a":24.5,"b":25.5,"h1":6,"h2":6},
{"a":26.5,"b":26.5,"h1":0,"h2":5},{"a":27.5,"b":27.5,"h1":0,"h2":5},{"a":26.5,"b":27.5,"h1":5,"h2":5},
{"a":30.5,"b":30.5,"h1":0,"h2":3},{"a":31.5,"b":31.5,"h1":0,"h2":3},{"a":30.5,"b":31.5,"h1":3,"h2":3},
{"a":29.5,"b":29.5,"h1":0,"h2":4},{"a":31,"b":31,"h1":3,"h2":4},{"a":29.5,"b":31,"h1":4,"h2":4},
{"a":28.5,"b":28.5,"h1":0,"h2":5},{"a":30.25,"b":30.25,"h1":4,"h2":5},{"a":28.5,"b":30.25,"h1":5,"h2":5},
{"a":27,"b":27,"h1":5,"h2":6},{"a":29.375,"b":29.375,"h1":5,"h2":6},{"a":27,"b":29.375,"h1":6,"h2":6},
{"a":25,"b":25,"h1":6,"h2":7},{"a":28.1875,"b":28.1875,"h1":6,"h2":7},{"a":25,"b":28.1875,"h1":7,"h2":7},
{"a":23,"b":23,"h1":7,"h2":8},{"a":26.594,"b":26.594,"h1":7,"h2":8},{"a":23,"b":26.594,"h1":8,"h2":8},
{"a":35.5,"b":35.5,"h1":0,"h2":4},{"a":36.5,"b":36.5,"h1":0,"h2":4},{"a":35.5,"b":36.5,"h1":4,"h2":4},
{"a":34.5,"b":34.5,"h1":0,"h2":5},{"a":36,"b":36,"h1":4,"h2":5},{"a":34.5,"b":36,"h1":5,"h2":5},
{"a":33.5,"b":33.5,"h1":0,"h2":6},{"a":35.25,"b":35.25,"h1":5,"h2":6},{"a":33.5,"b":35.25,"h1":6,"h2":6},
{"a":32.5,"b":32.5,"h1":0,"h2":7},{"a":34.375,"b":34.375,"h1":6,"h2":7},{"a":32.5,"b":34.375,"h1":7,"h2":7},
{"a":41.5,"b":41.5,"h1":0,"h2":1},{"a":42.5,"b":42.5,"h1":0,"h2":1},{"a":41.5,"b":42.5,"h1":1,"h2":1},
{"a":40.5,"b":40.5,"h1":0,"h2":2},{"a":42,"b":42,"h1":1,"h2":2},{"a":40.5,"b":42,"h1":2,"h2":2},
{"a":39.5,"b":39.5,"h1":0,"h2":3},{"a":41.25,"b":41.25,"h1":2,"h2":3},{"a":39.5,"b":41.25,"h1":3,"h2":3},
{"a":38.5,"b":38.5,"h1":0,"h2":4},{"a":40.375,"b":40.375,"h1":3,"h2":4},{"a":38.5,"b":40.375,"h1":4,"h2":4},
{"a":44.5,"b":44.5,"h1":0,"h2":3},{"a":45.5,"b":45.5,"h1":0,"h2":3},{"a":44.5,"b":45.5,"h1":3,"h2":3},
{"a":43.5,"b":43.5,"h1":0,"h2":4},{"a":45,"b":45,"h1":3,"h2":4},{"a":43.5,"b":45,"h1":4,"h2":4},
{"a":39.4375,"b":39.4375,"h1":4,"h2":5},{"a":44.25,"b":44.25,"h1":4,"h2":5},{"a":39.4375,"b":44.25,"h1":5,"h2":5},
{"a":46.5,"b":46.5,"h1":0,"h2":5},{"a":47.5,"b":47.5,"h1":0,"h2":5},{"a":46.5,"b":47.5,"h1":5,"h2":5},
{"a":41.844,"b":41.844,"h1":5,"h2":6},{"a":47,"b":47,"h1":5,"h2":6},{"a":41.844,"b":47,"h1":6,"h2":6},
{"a":37.5,"b":37.5,"h1":0,"h2":7},{"a":44.422,"b":44.422,"h1":6,"h2":7},{"a":37.5,"b":44.422,"h1":7,"h2":7},
{"a":33.4375,"b":33.4375,"h1":7,"h2":8},{"a":40.961,"b":40.961,"h1":7,"h2":8},{"a":33.4375,"b":40.961,"h1":8,"h2":8},
{"a":24.797,"b":24.797,"h1":8,"h2":9},{"a":37.199,"b":37.199,"h1":8,"h2":9},{"a":24.797,"b":37.199,"h1":9,"h2":9},
{"a":11.809,"b":11.809,"h1":9,"h2":10},{"a":30.998,"b":30.998,"h1":9,"h2":10},{"a":11.809,"b":30.998,"h1":10,"h2":10}
]
},
"layer": [
{
"data": {"name": "cells"},
"transform": [{"lookup": "t", "from": {"data": {"name": "tissues"}, "key": "t", "fields": ["tissue"]}}],
"mark": {"type": "rect", "stroke": "#000000", "strokeWidth": 1.4},
"encoding": {
"x": {"field": "tissue", "type": "nominal",
"sort": ["Senescent leaves","Pistils","Fruit peduncle","Fruit stage 3 (skin + flesh)","Stem","Roots","Radicle","Flowers","Open buds","Cotyledons","Leaves","Buds 0.7 cm","Fruit calyx (stage 2)","Fruit stage 2 (skin + flesh)","Fruits (stage 1)","Fruits 1 cm","Fruits 6 cm"],
"scale": {"paddingInner": 0, "paddingOuter": 0},
"axis": {"orient": "bottom", "title": null, "labelAngle": -45, "labelAlign": "right", "labelBaseline": "middle", "labelFontSize": 17, "labelFontWeight": "bold", "labelFont": "Liberation Sans", "labelColor": "#000000", "labelPadding": 12, "ticks": false, "domain": false, "labelLimit": 0}},
"y": {"field": "g", "type": "nominal",
"sort": ["SmLAC14","SmLAC8","SmLAC22","SmLAC31","SmLAC25","SmLAC30","SmLAC26","SmLAC28","SmLAC45","SmLAC27","SmLAC48","SmLAC38","SmLAC43","SmLAC18","SmLAC35","SmLAC17","SmLAC29","SmLAC10","SmLAC15","SmLAC16","SmLAC7","SmLAC41","SmLAC9","SmLAC12","SmLAC32","SmLAC47","SmLAC42","SmLAC46","SmLAC34","SmLAC13","SmLAC6","SmLAC33","SmLAC3","SmLAC37","SmLAC36","SmLAC5","SmLAC44","SmLAC21","SmLAC4","SmLAC2","SmLAC24","SmLAC39","SmLAC40","SmLAC1","SmLAC11","SmLAC23","SmLAC19","SmLAC20"],
"scale": {"paddingInner": 0, "paddingOuter": 0},
"axis": {"orient": "right", "title": null, "labelFontSize": 15, "labelFontWeight": "bold", "labelFont": "Liberation Sans", "labelColor": "#000000", "labelPadding": 8, "ticks": false, "domain": false}},
"color": {"field": "v", "type": "quantitative",
"scale": {"type": "linear", "domain": [-3, 0.5, 4], "range": ["#0000ff", "#ffffff", "#ffff00"], "interpolate": "rgb", "clamp": true},
"legend": {"orient": "none", "legendX": 598, "legendY": 27, "direction": "vertical", "title": null, "gradientLength": 195, "gradientThickness": 26, "values": [4, 3, 2, 1, 0, -1, -2, -3], "format": ".2f", "labelFontSize": 15, "labelFont": "Liberation Sans", "labelColor": "#000000", "labelOffset": 6, "labelBaseline": "middle", "labelOverlap": false, "gradientStrokeColor": "#000000", "gradientStrokeWidth": 1, "padding": 0,
"encode": {"labels": {"update": {"baseline": {"value": "middle"}}}}}}
}
},
{
"data": {"name": "topTree"},
"mark": {"type": "rule", "color": "#8c8c8c", "strokeWidth": 1.5},
"encoding": {
"x": {"field": "a", "type": "quantitative", "scale": {"domain": [0, 17], "range": [0, 456], "nice": false, "zero": false}, "axis": null},
"x2": {"field": "b"},
"y": {"field": "h1", "type": "quantitative", "scale": {"domain": [0, 9], "range": [0, -93], "nice": false, "zero": false}, "axis": null},
"y2": {"field": "h2"}
}
},
{
"data": {"name": "leftTree"},
"mark": {"type": "rule", "color": "#8c8c8c", "strokeWidth": 1.5},
"encoding": {
"x": {"field": "h1", "type": "quantitative", "scale": {"domain": [0, 10], "range": [0, -70], "nice": false, "zero": false}, "axis": null},
"x2": {"field": "h2"},
"y": {"field": "a", "type": "quantitative", "scale": {"domain": [0, 48], "range": [0, 920], "nice": false, "zero": false}, "axis": null},
"y2": {"field": "b"}
}
}
],
"resolve": {"scale": {"x": "independent", "y": "independent"}}
}
